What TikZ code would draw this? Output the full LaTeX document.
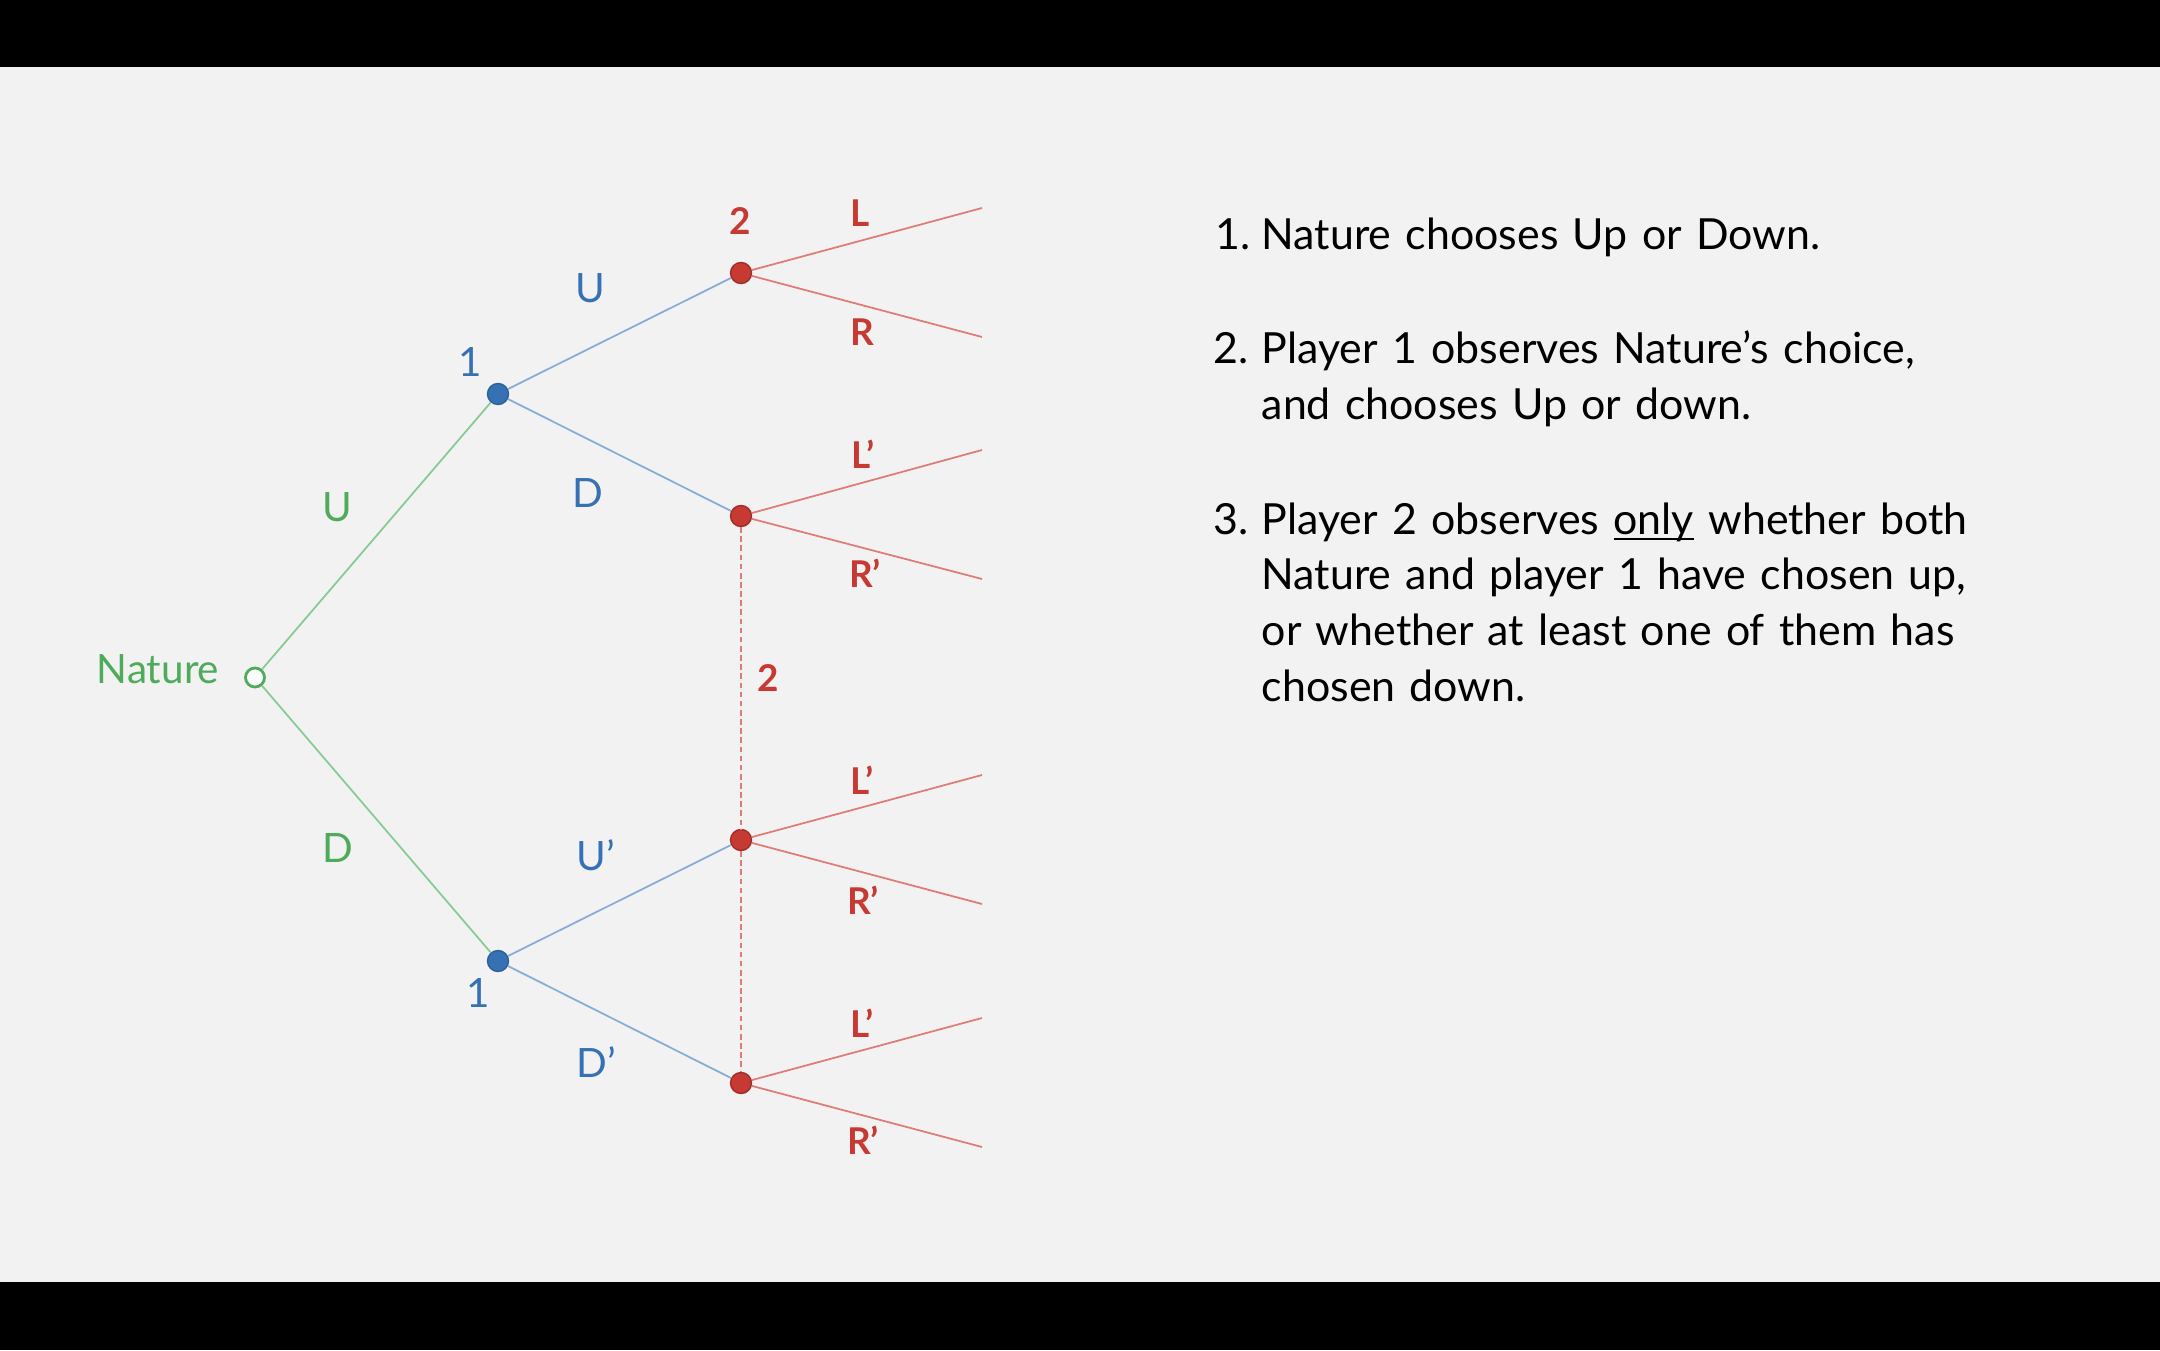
\documentclass[tikz,border=0pt]{standalone}
\usepackage{fontspec}
\setmainfont{Lato}
\usetikzlibrary{positioning}
\definecolor{slidebg}{HTML}{F2F2F2}
\definecolor{natgreen}{HTML}{4DAB5B}
\definecolor{natline}{HTML}{86CB91}
\definecolor{oneblue}{HTML}{3671B4}
\definecolor{oneline}{HTML}{86ACD8}
\definecolor{twored}{HTML}{C73A33}
\definecolor{twoline}{HTML}{E07C78}
\newcommand{\undertext}[1]{{\setbox0\hbox{#1}\rlap{\rule[-1.8pt]{\wd0}{0.7pt}}\box0}}

\begin{document}
\begin{tikzpicture}[
 natnode/.style={circle,draw=natgreen,fill=white,line width=0.8pt,inner sep=0pt,minimum size=0.19cm},
 onenode/.style={circle,draw=oneblue!85!black,fill=oneblue,line width=0.4pt,inner sep=0pt,minimum size=0.21cm},
 twonode/.style={circle,draw=twored!80!black,fill=twored,line width=0.4pt,inner sep=0pt,minimum size=0.21cm},
 natlbl/.style={text=natgreen,inner sep=0pt,font=\fontsize{11.5}{13}\selectfont},
 onelbl/.style={text=oneblue,inner sep=0pt,font=\fontsize{11.5}{13}\selectfont},
 twolbl/.style={text=twored,inner sep=0pt,font=\fontsize{10.5}{12}\selectfont\bfseries},
 natedge/.style={draw=natline,line width=0.5pt},
 oneedge/.style={draw=oneline,line width=0.5pt},
 twoedge/.style={draw=twoline,line width=0.5pt},
 infoset/.style={draw=twoline,line width=0.5pt,dash pattern=on 1.6pt off 1pt},
 itemnum/.style={anchor=base west,inner sep=0pt,font=\fontsize{12.2}{15.9}\selectfont},
 itemtext/.style={anchor=base west,inner sep=0pt,text width=7.6cm,align=left,font=\fontsize{12.2}{15.9}\selectfont}
 ]
\fill[slidebg] (0,0) rectangle (21.6,13.5);
\fill[black] (0,12.83) rectangle (21.6,13.5);
\fill[black] (0,0) rectangle (21.6,0.68);

\node[natnode] (nat) at (2.55,6.725) {};
\node[onenode] (oneup) at (4.98,9.56) {};
\node[onenode] (onedn) at (4.98,3.89) {};
\node[twonode] (twoa) at (7.41,10.77) {};
\node[twonode] (twob) at (7.41,8.34) {};
\node[twonode] (twoc) at (7.41,5.10) {};
\node[twonode] (twod) at (7.41,2.67) {};

\coordinate (enda1) at (9.82,11.42);
\coordinate (enda2) at (9.82,10.13);
\coordinate (endb1) at (9.82,9.00);
\coordinate (endb2) at (9.82,7.71);
\coordinate (endc1) at (9.82,5.75);
\coordinate (endc2) at (9.82,4.46);
\coordinate (endd1) at (9.82,3.32);
\coordinate (endd2) at (9.82,2.03);

\draw[natedge] (nat) -- (oneup);
\draw[natedge] (nat) -- (onedn);
\draw[oneedge] (oneup) -- (twoa);
\draw[oneedge] (oneup) -- (twob);
\draw[oneedge] (onedn) -- (twoc);
\draw[oneedge] (onedn) -- (twod);
\draw[infoset] (twob) -- (twoc);
\draw[infoset] (twoc) -- (twod);
\foreach \n in {a,b,c,d}{
 \draw[twoedge] (two\n) -- (end\n1);
 \draw[twoedge] (two\n) -- (end\n2);
}

\node[natlbl] (natname) at (1.58,6.81) {Nature};
\node[natlbl] (natu) at (3.37,8.43) {U};
\node[natlbl] (natd) at (3.38,5.02) {D};
\node[onelbl] (oneupname) at (4.70,9.885) {1};
\node[onelbl] (onednname) at (4.78,3.57) {1};
\node[onelbl] (oneupu) at (5.90,10.62) {U};
\node[onelbl] (oneupd) at (5.88,8.57) {D};
\node[onelbl] (onednu) at (5.96,4.95) {U’};
\node[onelbl] (onednd) at (5.96,2.88) {D’};
\node[twolbl] (twoaname) at (7.40,11.29) {2};
\node[twolbl] (twosetname) at (7.68,6.72) {2};
\node[twolbl] (twoal) at (8.60,11.37) {L};
\node[twolbl] (twoar) at (8.62,10.18) {R};
\node[twolbl] (twobl) at (8.63,8.96) {L’};
\node[twolbl] (twobr) at (8.65,7.77) {R’};
\node[twolbl] (twocl) at (8.62,5.70) {L’};
\node[twolbl] (twocr) at (8.63,4.50) {R’};
\node[twolbl] (twodl) at (8.62,3.27) {L’};
\node[twolbl] (twodr) at (8.63,2.10) {R’};

\node[itemnum] (num1) at (12.15,11.00) {1.};
\node[itemtext] (item1) at (12.61,11.00) {Nature chooses Up or Down.};
\node[itemnum] (num2) at (12.13,9.86) {2.};
\node[itemtext] (item2) at (12.61,9.86) {Player 1 observes Nature’s choice,\\and chooses Up or down.};
\node[itemnum] (num3) at (12.13,8.16) {3.};
\node[itemtext] (item3) at (12.61,8.16) {Player 2 observes \undertext{only} whether both\\Nature and player 1 have chosen up,\\or whether at least one of them has\\chosen down.};
\end{tikzpicture}
\end{document}
